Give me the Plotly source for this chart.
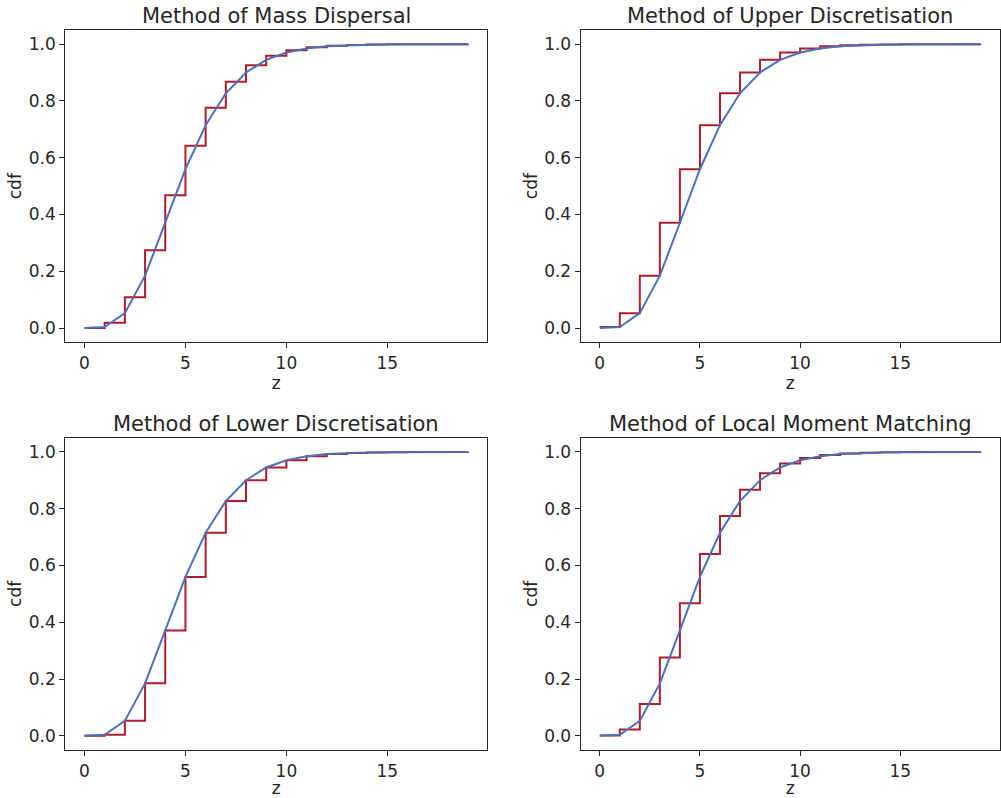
import plotly.graph_objects as go

z = list(range(20))

# true (continuous) cdf evaluated at the grid points
cdf_true = [0.0, 0.00366, 0.05265, 0.18474, 0.37116, 0.55951, 0.71494, 0.82701,
            0.90037, 0.94504, 0.97075, 0.98490, 0.99240, 0.99626, 0.99819,
            0.99914, 0.99960, 0.99982, 0.99992, 0.99996]

cdf_mass_dispersal = [0.00017, 0.01858, 0.10882, 0.27456, 0.46790, 0.64248,
                      0.77633, 0.86794, 0.92564, 0.95974, 0.97891, 0.98925,
                      0.99465, 0.99740, 0.99875, 0.99941, 0.99973, 0.99988,
                      0.99994, 0.99997]

cdf_upper = [0.00366, 0.05265, 0.18474, 0.37116, 0.55951, 0.71494, 0.82701,
             0.90037, 0.94504, 0.97075, 0.98490, 0.99240, 0.99626, 0.99819,
             0.99914, 0.99960, 0.99982, 0.99992, 0.99996, 0.99998]

cdf_lower = [0.0, 0.00366, 0.05265, 0.18474, 0.37116, 0.55951, 0.71494, 0.82701,
             0.90037, 0.94504, 0.97075, 0.98490, 0.99240, 0.99626, 0.99819,
             0.99914, 0.99960, 0.99982, 0.99992, 0.99996]

cdf_lmm = [0.00073, 0.02177, 0.11211, 0.27569, 0.46705, 0.64073, 0.77455,
           0.86652, 0.92466, 0.95913, 0.97855, 0.98905, 0.99454, 0.99734,
           0.99872, 0.99940, 0.99972, 0.99987, 0.99994, 0.99997]

titles = ["Method of Mass Dispersal", "Method of Upper Discretisation",
          "Method of Lower Discretisation", "Method of Local Moment Matching"]
steps = [cdf_mass_dispersal, cdf_upper, cdf_lower, cdf_lmm]

W, H = 1001, 798
# axes boxes in pixels (left, right, top, bottom)
boxes = [(65.3, 487.3, 30.0, 342.3), (580.7, 999.5, 30.0, 342.3),
         (65.3, 487.3, 437.7, 750.0), (580.7, 999.5, 437.7, 750.0)]

RED = "#b01c2a"
BLUE = "#4c6fbd"
INK = "#262626"
FONT = "DejaVu Sans"

fig = go.Figure()
annotations = []
for i in range(4):
    ax = "" if i == 0 else str(i + 1)
    xa = "x" + ax
    ya = "y" + ax
    fig.add_trace(go.Scatter(x=z, y=steps[i], mode="lines", line_shape="hv",
                             line=dict(color=RED, width=2), xaxis=xa, yaxis=ya,
                             showlegend=False))
    fig.add_trace(go.Scatter(x=z, y=cdf_true, mode="lines",
                             line=dict(color=BLUE, width=2), xaxis=xa, yaxis=ya,
                             showlegend=False))
    l, r, t, b = boxes[i]
    xdom = [l / W, r / W]
    ydom = [1 - b / H, 1 - t / H]
    common = dict(showline=True, linecolor=INK, linewidth=1.25, mirror=True,
                  ticks="outside", ticklen=5, tickwidth=1.25, tickcolor=INK,
                  showgrid=False, zeroline=False, automargin=False,
                  tickfont=dict(family=FONT, size=17, color=INK))
    fig.layout["xaxis" + ax] = dict(domain=xdom, range=[-0.95, 19.95],
                                    tickvals=[0, 5, 10, 15], anchor=ya,
                                    title=dict(text="z", standoff=3,
                                               font=dict(family=FONT, size=17, color=INK)),
                                    **common)
    fig.layout["yaxis" + ax] = dict(domain=ydom, range=[-0.05, 1.05],
                                    tickvals=[0, 0.2, 0.4, 0.6, 0.8, 1.0],
                                    tickformat=".1f", anchor=xa,
                                    title=dict(text="cdf", standoff=2,
                                               font=dict(family=FONT, size=17, color=INK)),
                                    **common)
    annotations.append(dict(text=titles[i], xref="paper", yref="paper",
                            x=(xdom[0] + xdom[1]) / 2, y=ydom[1],
                            yshift=0, xanchor="center", yanchor="bottom",
                            showarrow=False,
                            font=dict(family=FONT, size=21, color=INK)))

fig.update_layout(width=W, height=H, margin=dict(l=0, r=0, t=0, b=0),
                  plot_bgcolor="white", paper_bgcolor="white",
                  annotations=annotations)

fig.write_html("out.html", config={"displayModeBar": False},
               post_script="document.body.style.margin='0';document.body.style.overflow='hidden';")
